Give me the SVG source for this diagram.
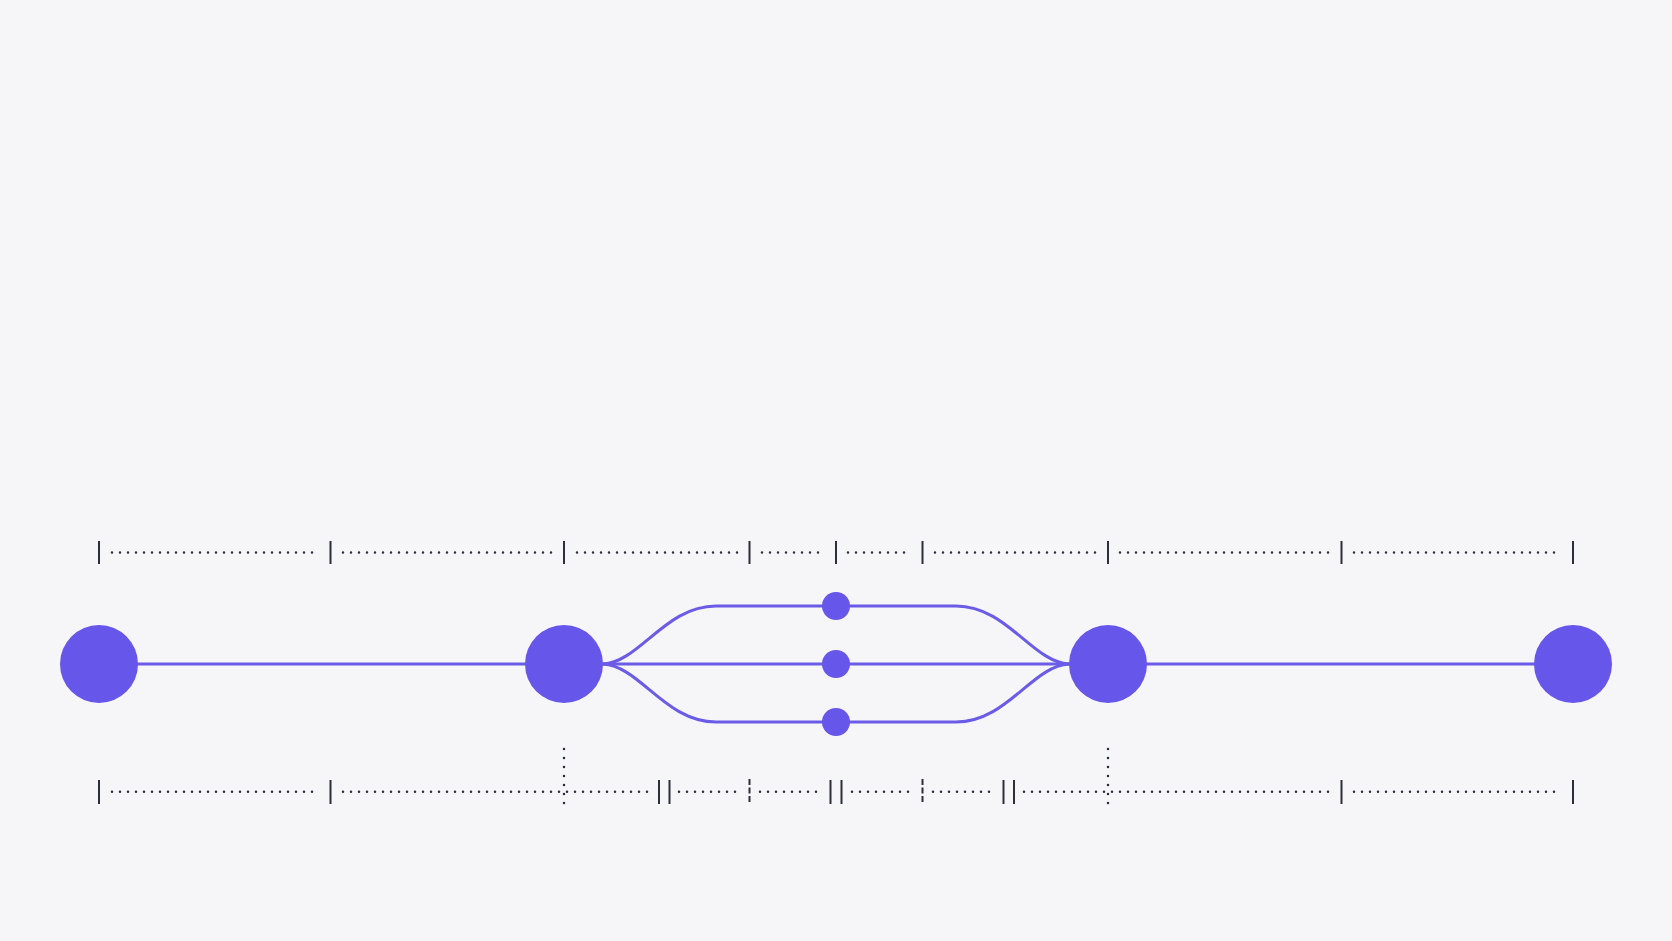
<svg xmlns="http://www.w3.org/2000/svg" width="1672" height="941" viewBox="0 0 1672 941">
  <style>
    .bg { fill: #f6f6f9; }
    .node { fill: #6656e9; }
    .edge { fill: none; stroke: #6b5ce8; stroke-width: 3; }
    .tick { stroke: #2b2e3b; stroke-width: 2; fill: none; }
    .dashtick { stroke: #2b2e3b; stroke-width: 2; fill: none; stroke-dasharray: 6 2.5; }
    .dots { stroke: #2b2e3b; stroke-width: 2.5; stroke-linecap: round; stroke-dasharray: 0 8; fill: none; }
    .vdots { stroke: #2b2e3b; stroke-width: 2.5; stroke-linecap: round; stroke-dasharray: 0 9; fill: none; }
  </style>
  <rect class="bg" x="0" y="0" width="1672" height="941"/>

  <g id="ruler-top">
    <line class="tick" x1="99" y1="541" x2="99" y2="564"/>
    <line class="tick" x1="330.5" y1="541" x2="330.5" y2="564"/>
    <line class="tick" x1="564" y1="541" x2="564" y2="564"/>
    <line class="tick" x1="749.5" y1="541" x2="749.5" y2="564"/>
    <line class="tick" x1="836" y1="541" x2="836" y2="564"/>
    <line class="tick" x1="922.5" y1="541" x2="922.5" y2="564"/>
    <line class="tick" x1="1108" y1="541" x2="1108" y2="564"/>
    <line class="tick" x1="1341.5" y1="541" x2="1341.5" y2="564"/>
    <line class="tick" x1="1573" y1="541" x2="1573" y2="564"/>
    <line class="dots" x1="112" y1="552.5" x2="320" y2="552.5"/>
    <line class="dots" x1="343" y1="552.5" x2="553" y2="552.5"/>
    <line class="dots" x1="577" y1="552.5" x2="739" y2="552.5"/>
    <line class="dots" x1="762" y1="552.5" x2="826" y2="552.5"/>
    <line class="dots" x1="848" y1="552.5" x2="912" y2="552.5"/>
    <line class="dots" x1="935" y1="552.5" x2="1097" y2="552.5"/>
    <line class="dots" x1="1120" y1="552.5" x2="1330" y2="552.5"/>
    <line class="dots" x1="1354" y1="552.5" x2="1562" y2="552.5"/>
  </g>

  <g id="ruler-bottom">
    <line class="tick" x1="99" y1="780" x2="99" y2="804"/>
    <line class="tick" x1="330.5" y1="780" x2="330.5" y2="804"/>
    <line class="vdots" x1="564" y1="749" x2="564" y2="804"/>
    <line class="tick" x1="659" y1="780" x2="659" y2="804"/>
    <line class="tick" x1="669.5" y1="780" x2="669.5" y2="804"/>
    <line class="dashtick" x1="749.5" y1="779" x2="749.5" y2="804"/>
    <line class="tick" x1="830.5" y1="780" x2="830.5" y2="804"/>
    <line class="tick" x1="841.5" y1="780" x2="841.5" y2="804"/>
    <line class="dashtick" x1="922.5" y1="779" x2="922.5" y2="804"/>
    <line class="tick" x1="1003.5" y1="780" x2="1003.5" y2="804"/>
    <line class="tick" x1="1014" y1="780" x2="1014" y2="804"/>
    <line class="vdots" x1="1108" y1="749" x2="1108" y2="804"/>
    <line class="tick" x1="1341.5" y1="780" x2="1341.5" y2="804"/>
    <line class="tick" x1="1573" y1="780" x2="1573" y2="804"/>
    <line class="dots" x1="112" y1="791.7" x2="320" y2="791.7"/>
    <line class="dots" x1="343" y1="791.7" x2="649" y2="791.7"/>
    <line class="dots" x1="679" y1="791.7" x2="740" y2="791.7"/>
    <line class="dots" x1="760" y1="791.7" x2="821" y2="791.7"/>
    <line class="dots" x1="852" y1="791.7" x2="913" y2="791.7"/>
    <line class="dots" x1="933" y1="791.7" x2="994" y2="791.7"/>
    <line class="dots" x1="1024" y1="791.7" x2="1330" y2="791.7"/>
    <line class="dots" x1="1354" y1="791.7" x2="1562" y2="791.7"/>
  </g>

  <g id="connectors">
    <line class="edge" x1="99" y1="664" x2="564" y2="664"/>
    <line class="edge" x1="564" y1="664" x2="1108" y2="664"/>
    <path class="edge" d="M603,664 C640,662 665,606 716,606 L956,606 C1007,606 1032,662 1069,664"/>
    <path class="edge" d="M603,664 C640,666 665,722 716,722 L956,722 C1007,722 1032,666 1069,664"/>
    <line class="edge" x1="1108" y1="664" x2="1573" y2="664"/>
  </g>

  <g id="node-a"><circle class="node" cx="99" cy="664" r="39"/></g>
  <g id="node-b"><circle class="node" cx="564" cy="664" r="39"/></g>
  <g id="node-top"><circle class="node" cx="836" cy="606" r="14"/></g>
  <g id="node-mid"><circle class="node" cx="836" cy="664" r="14"/></g>
  <g id="node-bottom"><circle class="node" cx="836" cy="722" r="14"/></g>
  <g id="node-c"><circle class="node" cx="1108" cy="664" r="39"/></g>
  <g id="node-d"><circle class="node" cx="1573" cy="664" r="39"/></g>
</svg>
